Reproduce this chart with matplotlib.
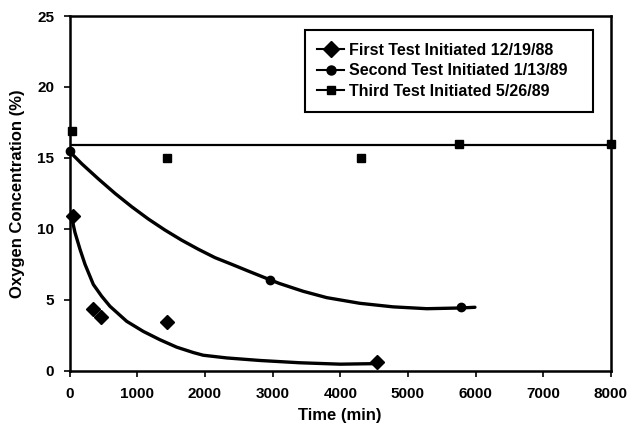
import matplotlib
matplotlib.use("Agg")
import matplotlib.pyplot as plt
from matplotlib.lines import Line2D
from matplotlib.patches import Rectangle

# Measured points
first_time = [50, 340, 470, 1440, 4540]
first_o2 = [10.9, 4.35, 3.8, 3.4, 0.6]
second_time = [0, 2960, 5780]
second_o2 = [15.5, 6.4, 4.5]
third_time = [30, 1440, 4300, 5750, 8000]
third_o2 = [16.9, 15.0, 15.0, 16.0, 16.0]

# Fitted curves
first_fit_time = [32, 81, 155, 229, 352, 475, 598, 845, 1090, 1337, 1583,
                  1829, 1976, 2322, 2814, 3400, 4000, 4540]
first_fit_o2 = [10.8, 9.74, 8.56, 7.5, 6.08, 5.25, 4.54, 3.48, 2.77, 2.18,
                1.66, 1.28, 1.09, 0.9, 0.72, 0.56, 0.46, 0.5]
second_fit_time = [7, 180, 426, 672, 918, 1165, 1411, 1657, 1903, 2149, 2396,
                   2642, 2888, 3100, 3450, 3800, 4290, 4780, 5280, 5770, 5990]
second_fit_o2 = [15.42, 14.59, 13.52, 12.5, 11.56, 10.69, 9.91, 9.2, 8.56,
                 7.97, 7.5, 7.02, 6.55, 6.15, 5.6, 5.15, 4.75, 4.5, 4.37,
                 4.42, 4.47]
third_fit_time = [0, 8000]
third_fit_o2 = [15.9, 15.9]

legend_labels = ["First Test Initiated 12/19/88",
                 "Second Test Initiated 1/13/89",
                 "Third Test Initiated 5/26/89"]
x_ticks = [0, 1000, 2000, 3000, 4000, 5000, 6000, 7000, 8000]
y_ticks = [0, 5, 10, 15, 20, 25]

plt.rcParams['font.family'] = ['Liberation Sans', 'DejaVu Sans']
plt.rcParams['font.weight'] = 'bold'

W, H = 629, 425
fig = plt.figure(figsize=(W / 100, H / 100), dpi=100)
ax = fig.add_axes([69.5 / W, 1 - 370.7 / H, (611 - 69.5) / W, (370.7 - 16) / H])

lw = 2.4
ax.plot(first_fit_time, first_fit_o2, color='black', lw=lw,
        solid_capstyle='round', solid_joinstyle='round')
ax.plot(second_fit_time, second_fit_o2, color='black', lw=lw,
        solid_capstyle='round', solid_joinstyle='round')
ax.plot(third_fit_time, third_fit_o2, color='black', lw=1.6)

ax.plot(first_time, first_o2, linestyle='none', marker='D', color='black',
        markersize=7, clip_on=False)
ax.plot(second_time, second_o2, linestyle='none', marker='o', color='black',
        markersize=6, clip_on=False)
ax.plot(third_time, third_o2, linestyle='none', marker='s', color='black',
        markersize=5.5, clip_on=False)

ax.set_xlim(0, 8000)
ax.set_ylim(0, 25)
ax.set_xticks(x_ticks)
ax.set_yticks(y_ticks)
ax.tick_params(direction='out', length=4, width=1.2, labelsize=11)
ax.tick_params(axis='x', pad=8)
ax.tick_params(axis='y', pad=7)
for lab in ax.get_xticklabels() + ax.get_yticklabels():
    lab.set_fontweight('bold')
for s in ax.spines.values():
    s.set_linewidth(1.8)

ax.set_xlabel("Time (min)", fontsize=12, fontweight='bold', labelpad=5)
ax.set_ylabel("Oxygen Concentration (%)", fontsize=12, fontweight='bold', labelpad=9)

handles = [
    Line2D([], [], color='black', lw=1.5, marker='D', markersize=8.5),
    Line2D([], [], color='black', lw=1.5, marker='o', markersize=6.5),
    Line2D([], [], color='black', lw=1.5, marker='s', markersize=6),
]
leg = fig.legend(handles, legend_labels, loc='upper left',
                 bbox_to_anchor=(317 / W, 1 - 43 / H), fontsize=11.5,
                 frameon=False, handlelength=1.7, handletextpad=0.3,
                 labelspacing=0.33, borderpad=0, borderaxespad=0)
for t in leg.get_texts():
    t.set_fontweight('bold')

fig.patches.append(Rectangle((305 / W, 1 - 112 / H), (593 - 305) / W,
                             (112 - 30) / H, transform=fig.transFigure,
                             fill=True, facecolor='white', edgecolor='black',
                             lw=1.5, zorder=3))
leg.set_zorder(4)

fig.savefig("out.png", dpi=100)
